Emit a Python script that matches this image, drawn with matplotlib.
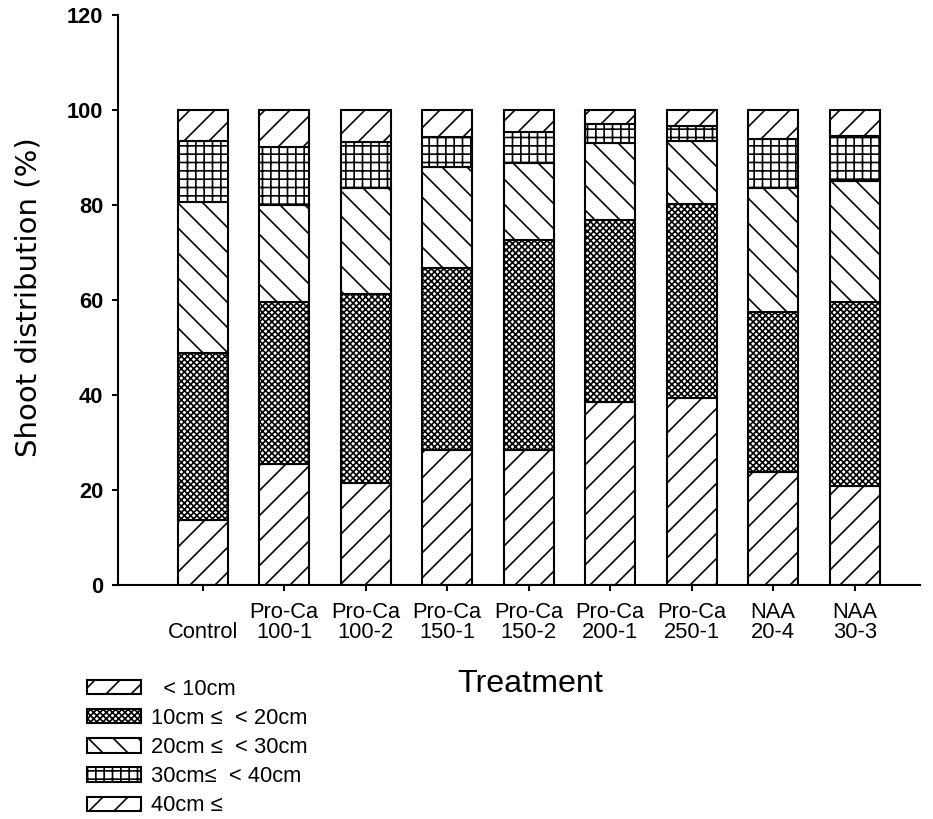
import numpy as np
import matplotlib
matplotlib.use("Agg")
import matplotlib.pyplot as plt
from matplotlib.patches import Patch
from matplotlib.transforms import ScaledTranslation

plt.rcParams["font.family"] = ["Liberation Sans", "DejaVu Sans"]
plt.rcParams["hatch.linewidth"] = 0.8

treatments = ["Control", "Pro-Ca\n100-1", "Pro-Ca\n100-2", "Pro-Ca\n150-1", "Pro-Ca\n150-2",
              "Pro-Ca\n200-1", "Pro-Ca\n250-1", "NAA\n20-4", "NAA\n30-3"]
lt10    = [13.7, 25.4, 21.4, 28.4, 28.4, 38.6, 39.4, 23.7, 20.8]
c10_20  = [35.2, 34.2, 39.9, 38.3, 44.2, 38.2, 40.8, 33.8, 38.8]
c20_30  = [31.8, 20.4, 22.3, 21.4, 16.2, 16.3, 13.3, 26.0, 25.5]
c30_40  = [12.8, 12.3,  9.7,  6.3,  6.5,  3.9,  3.2, 10.3,  9.5]
ge40    = [ 6.5,  7.7,  6.7,  5.6,  4.7,  3.0,  3.3,  6.2,  5.4]

series = [lt10, c10_20, c20_30, c30_40, ge40]
labels = ["  < 10cm", "10cm \u2264  < 20cm", "20cm \u2264  < 30cm", "30cm\u2264  < 40cm", "40cm \u2264"]
hatches = ["//", "xxxxxxxx", "\\\\", "+++", "//"]

fig = plt.figure(figsize=(933 / 150, 819 / 150), dpi=150)
ax = fig.add_axes([0.1265, 0.2857, 0.986 - 0.1265, 0.9817 - 0.2857])

x = np.arange(len(treatments))
bottom = np.zeros(len(treatments))
handles = []
for vals, lab, h in zip(series, labels, hatches):
    ax.bar(x, vals, width=0.61, bottom=bottom, color="white", edgecolor="black",
           hatch=h, linewidth=1.0)
    bottom += np.array(vals)
    handles.append(Patch(facecolor="white", edgecolor="black", hatch=h, linewidth=1.0, label=lab))

ax.set_xlim(-1.04, 8.8)
ax.set_ylim(0, 120)
ax.set_yticks(np.arange(0, 121, 20))
ax.set_xticks(x)
ax.tick_params(axis="y", labelsize=10.5, direction="out", length=3, width=1.0, pad=4)
ax.tick_params(axis="x", direction="out", length=3, width=1.0, pad=5)
ax.set_xticklabels(treatments, fontsize=10.5, linespacing=0.95)
for lbl in ax.get_yticklabels():
    lbl.set_fontweight("bold")
# "Control" sits a little lower than the two-line labels
ctrl = ax.get_xticklabels()[0]
ctrl.set_transform(ctrl.get_transform() + ScaledTranslation(0, -20 / 150, fig.dpi_scale_trans))

ax.spines["top"].set_visible(False)
ax.spines["right"].set_visible(False)
ax.spines["left"].set_linewidth(1.0)
ax.spines["bottom"].set_linewidth(1.0)

ax.set_ylabel("Shoot distribution (%)", fontsize=14, family="DejaVu Sans")
ax.yaxis.set_label_coords(-0.094, 0.505)
ax.set_xlabel("Treatment", fontsize=15.5)
ax.xaxis.set_label_coords(0.514, -0.147)

fig.legend(handles=handles, loc="upper left", bbox_to_anchor=(0.093, 1 - 679 / 819),
           frameon=False, fontsize=10.5, handlelength=2.5, handleheight=0.62,
           labelspacing=0.37, handletextpad=0.45, borderaxespad=0, borderpad=0)

fig.savefig("out.png", dpi=150)
